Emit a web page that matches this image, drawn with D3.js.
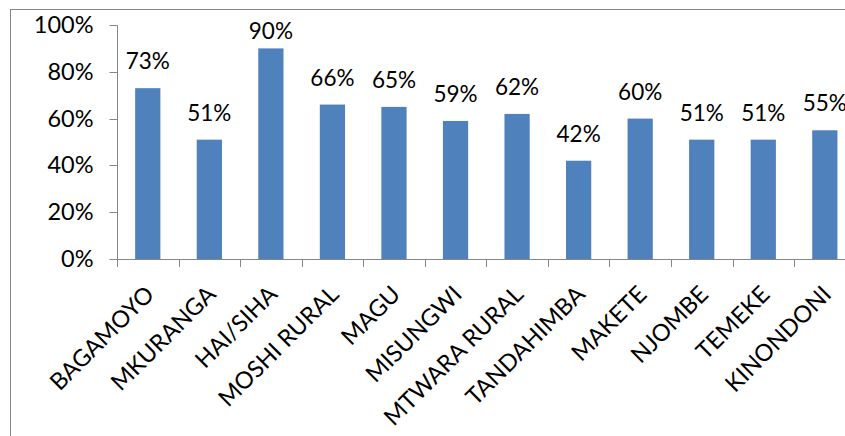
<!DOCTYPE html>
<html>
<head>
<meta charset="utf-8">
<script src="https://cdn.jsdelivr.net/npm/d3@7"></script>
<style>
html,body{margin:0;padding:0;background:#fff;}
svg{display:block;}
text{font-family:Lato,"Open Sans",sans-serif;font-weight:400;fill:#000;}
</style>
</head>
<body>
<svg id="chart" width="845" height="436"></svg>
<script>
const categories = ["BAGAMOYO","MKURANGA","HAI/SIHA","MOSHI RURAL","MAGU","MISUNGWI","MTWARA RURAL","TANDAHIMBA","MAKETE","NJOMBE","TEMEKE","KINONDONI"];
const values = [0.73,0.51,0.90,0.66,0.65,0.59,0.62,0.42,0.60,0.51,0.51,0.55];
const yTicks = [0,0.2,0.4,0.6,0.8,1.0];

const svg = d3.select("#chart");
const axisColor = "#868686";
const barColor = "#4F81BD";

// outer chart frame (extends past the window)
svg.append("rect").attr("x",10.5).attr("y",9.5).attr("width",1000).attr("height",1000)
  .attr("fill","none").attr("stroke",axisColor).attr("stroke-width",1);

const plotLeft = 117, plotTop = 25, plotBottom = 259, band = 61.55;
const x = d3.scaleBand().domain(categories).range([plotLeft, plotLeft + band*categories.length]).paddingInner(0.59).paddingOuter(0.295);
const y = d3.scaleLinear().domain([0,1]).range([plotBottom, plotTop]);

// y axis
const yAxis = d3.axisLeft(y).tickValues(yTicks).tickFormat(d3.format(".0%")).tickSize(8).tickPadding(16);
const gy = svg.append("g").attr("transform",`translate(${plotLeft+0.5},0)`).call(yAxis);
gy.select(".domain").attr("stroke",axisColor).attr("d",`M0,${plotTop+0.5}V${plotBottom+0.5}`);
gy.selectAll(".tick line").attr("stroke",axisColor);
gy.selectAll(".tick").attr("transform",d=>`translate(0,${Math.round(y(d))+0.5})`);
gy.selectAll(".tick text").style("font-size","23.5px").style("font-family",null).attr("fill","#000");

// bars
svg.append("g").selectAll("rect").data(values).join("rect")
  .attr("x",(d,i)=>x(categories[i]))
  .attr("width",x.bandwidth())
  .attr("y",d=>y(d))
  .attr("height",d=>plotBottom - y(d))
  .attr("fill",barColor);

// x axis
const boundaries = d3.range(categories.length+1).map(i=>plotLeft + i*band);
const gx = svg.append("g");
gx.append("line").attr("x1",plotLeft).attr("x2",plotLeft+band*categories.length)
  .attr("y1",plotBottom+0.5).attr("y2",plotBottom+0.5).attr("stroke",axisColor);
gx.selectAll("line.tk").data(boundaries).join("line").attr("class","tk")
  .attr("x1",d=>Math.round(d)+0.5).attr("x2",d=>Math.round(d)+0.5)
  .attr("y1",plotBottom).attr("y2",plotBottom+8).attr("stroke",axisColor);

// category labels
svg.append("g").selectAll("text").data(categories).join("text")
  .attr("transform",d=>`translate(${x(d)+x.bandwidth()/2+2},290) rotate(-45)`)
  .attr("text-anchor","end").attr("dy","0.35em")
  .style("font-size","23.5px")
  .text(d=>d);

// value labels
const fmt = d3.format(".0%");
svg.append("g").selectAll("text").data(values).join("text")
  .attr("x",(d,i)=>x(categories[i])+x.bandwidth()/2)
  .attr("y",d=>Math.max(y(d)-19, plotTop+14))
  .attr("text-anchor","middle")
  .style("font-size","22.5px")
  .text(d=>fmt(d));
</script>
</body>
</html>
